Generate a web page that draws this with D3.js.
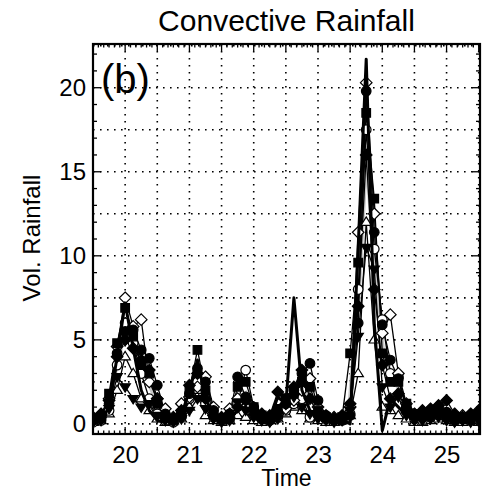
<!DOCTYPE html>
<html>
<head>
  <meta charset="utf-8">
  <title>Convective Rainfall</title>
  <script src="https://d3js.org/d3.v7.min.js"></script>
  <style>
    body { margin: 0; background: #fff; }
    text { font-family: "Liberation Sans", Arial, sans-serif; fill: #000; }
  </style>
</head>
<body>
<svg></svg>
<script>

// 3-hourly times (days)
var times = [19.5, 19.625, 19.75, 19.875, 20.0, 20.125, 20.25, 20.375, 20.5, 20.625, 20.75, 20.875,
  21.0, 21.125, 21.25, 21.375, 21.5, 21.625, 21.75, 21.875, 22.0, 22.125, 22.25, 22.375,
  22.5, 22.625, 22.75, 22.875, 23.0, 23.125, 23.25, 23.375, 23.5, 23.625, 23.75, 23.875,
  24.0, 24.125, 24.25, 24.375, 24.5, 24.625, 24.75, 24.875, 25.0, 25.125, 25.25, 25.375, 25.5]

var xTicks = [20, 21, 22, 23, 24, 25]
var yTicks = [0, 5, 10, 15, 20]

var obs = [0.3, 0.2, 1.0, 4.0, 7.2, 4.5, 2.0, 0.8, 0.2, 0.1, 0.3, 0.5,
  2.0, 3.8, 1.5, 0.5, 0.2, 0.3, 0.8, 1.0, 0.6, 0.2, 0.3, 1.6,
  1.2, 7.5, 2.0, 0.8, 0.4, 0.3, 0.2, 0.3, 0.0, 10.5, 21.7, 6.0,
  -0.4, 1.5, 1.0, 0.5, 0.3, 0.5, 0.8, 1.0, 0.6, 0.3, 0.2, 0.4, 0.6]

var ensMean = [0.2, 0.3, 1.2, 3.8, 5.5, 4.7, 3.6, 2.5, 1.2, 0.4, 0.2, 0.5,
  1.6, 3.0, 1.8, 0.6, 0.2, 0.4, 1.5, 1.8, 0.8, 0.3, 0.3, 0.6,
  1.0, 1.6, 2.0, 1.8, 0.7, 0.3, 0.2, 0.3, 1.2, 7.5, 16.5, 10.0,
  4.5, 3.0, 2.2, 0.9, 0.4, 0.3, 0.5, 0.7, 0.6, 0.3, 0.3, 0.3, 0.3]

var circleFilled = [0.2, 0.3, 1.2, 4.2, 5.5, 5.6, 4.4, 3.9, 2.3, 0.6, 0.3, 0.5,
  1.8, 3.3, 2.5, 0.8, 0.3, 0.6, 2.8, 1.6, 0.9, 0.4, 0.3, 0.7,
  1.2, 2.0, 3.0, 3.6, 1.4, 0.5, 0.3, 0.2, 0.5, 6.0, 19.8, 11.4,
  5.9, 3.8, 2.7, 1.0, 0.5, 0.4, 0.8, 1.0, 0.7, 0.4, 0.3, 0.5, 0.4]

var circleOpen = [0.1, 0.2, 0.8, 3.5, 6.0, 4.8, 3.0, 1.5, 0.6, 0.2, 0.1, 0.4,
  1.5, 2.5, 1.2, 0.4, 0.2, 0.3, 1.2, 3.2, 1.0, 0.3, 0.2, 0.4,
  0.8, 1.2, 1.5, 0.4, 0.6, 0.3, 0.2, 0.3, 0.6, 8.0, 17.5, 10.4,
  6.2, 3.0, 2.8, 0.8, 0.3, 0.2, 0.4, 0.6, 0.4, 0.2, 0.3, 0.2, 0.3]

var squareFilled = [0.3, 0.4, 1.8, 4.8, 6.9, 5.2, 3.5, 3.0, 1.2, 0.4, 0.2, 0.6,
  2.0, 4.4, 2.0, 0.6, 0.3, 0.4, 2.2, 2.5, 1.0, 0.5, 0.4, 0.9,
  1.5, 1.8, 2.5, 2.2, 0.8, 0.4, 0.3, 0.4, 4.2, 9.6, 18.5, 13.4,
  4.2, 2.5, 2.5, 1.2, 0.6, 0.5, 0.6, 0.8, 0.5, 0.3, 0.4, 0.3, 0.5]

var diamondOpen = [0.2, 0.5, 1.5, 4.6, 7.5, 5.8, 6.2, 2.5, 1.5, 0.9, 0.3, 1.2,
  1.6, 2.2, 2.8, 1.0, 0.3, 0.9, 1.5, 1.0, 0.5, 0.3, 0.2, 0.6,
  0.9, 1.4, 2.0, 2.7, 1.0, 0.4, 0.2, 0.3, 1.0, 11.4, 20.3, 12.5,
  5.4, 6.5, 3.0, 1.2, 0.5, 0.3, 0.4, 0.5, 0.3, 0.2, 0.5, 0.3, 0.2]

var triDown = [0.1, 0.2, 0.9, 2.8, 2.2, 1.5, 1.0, 1.2, 0.5, 0.2, 0.1, 0.3,
  0.8, 1.5, 0.9, 0.3, 0.1, 0.2, 1.3, 0.8, 0.4, 0.2, 0.1, 0.3,
  1.6, 1.6, 1.0, 0.6, 0.3, 0.2, 0.1, 0.2, 0.8, 5.2, 10.5, 9.2,
  2.2, 1.0, 1.6, 0.5, 0.2, 0.2, 0.3, 0.4, 0.2, 0.1, 0.2, 0.1, 0.2]

var diamondFilled = [0.4, 0.6, 1.4, 4.0, 5.0, 4.5, 3.8, 3.2, 1.5, 0.5, 0.4, 0.8,
  2.3, 3.0, 1.5, 0.5, 0.4, 0.6, 1.0, 1.4, 0.8, 0.6, 0.5, 1.9,
  1.2, 2.2, 3.2, 1.5, 0.6, 0.5, 0.4, 0.5, 1.2, 7.0, 16.0, 8.0,
  3.5, 1.5, 1.8, 0.9, 0.6, 0.8, 0.9, 1.1, 1.4, 0.6, 0.4, 0.6, 0.8]

var triUpOpen = [0.1, 0.2, 0.6, 2.0, 4.0, 3.0, 1.5, 0.8, 0.3, 0.1, 0.2, 0.3,
  1.0, 2.0, 0.5, 0.2, 0.1, 0.2, 0.5, 0.4, 0.2, 0.1, 0.2, 0.3,
  0.6, 1.0, 0.8, 0.3, 0.2, 0.1, 0.1, 0.2, 0.5, 3.0, 12.0, 5.0,
  1.0, 0.8, 0.5, 0.3, 0.1, 0.1, 0.2, 0.3, 0.2, 0.1, 0.1, 0.2, 0.1]

var series = [
  {name: 'triUpOpen', values: triUpOpen, shape: 'triUp', fill: '#fff'},
  {name: 'circleOpen', values: circleOpen, shape: 'circle', fill: '#fff'},
  {name: 'diamondOpen', values: diamondOpen, shape: 'diamond', fill: '#fff'},
  {name: 'triDown', values: triDown, shape: 'triDown', fill: '#000'},
  {name: 'diamondFilled', values: diamondFilled, shape: 'diamond', fill: '#000'},
  {name: 'circleFilled', values: circleFilled, shape: 'circle', fill: '#000'},
  {name: 'squareFilled', values: squareFilled, shape: 'square', fill: '#000'}
]

var W = 487, H = 492
var margin = {left: 93, right: 7, top: 44, bottom: 58}

var svg = d3.select('svg')
  .attr('width', W)
  .attr('height', H)

var x = d3.scaleLinear().domain([19.5, 25.52]).range([margin.left, W - margin.right])
var y = d3.scaleLinear().domain([-0.6, 22.6]).range([H - margin.bottom, margin.top])

var x0 = x.range()[0], x1 = x.range()[1]
var y0 = y.range()[0], y1 = y.range()[1]

svg.append('clipPath').attr('id', 'clip')
  .append('rect')
  .attr('x', x0).attr('y', y1)
  .attr('width', x1 - x0).attr('height', y0 - y1)

// dotted grid
var grid = svg.append('g')
d3.range(19.5, 25.51, 0.5).filter((v) => v > 19.6).forEach((v) => {
  grid.append('line')
    .attr('x1', x(v)).attr('x2', x(v))
    .attr('y1', y1).attr('y2', y0)
    .attr('stroke', '#000').attr('stroke-width', 1.6)
    .attr('stroke-dasharray', '1.6,5.4')
})
d3.range(0, 22.6, 2.5).forEach((v) => {
  grid.append('line')
    .attr('x1', x0).attr('x2', x1)
    .attr('y1', y(v)).attr('y2', y(v))
    .attr('stroke', '#000').attr('stroke-width', 1.6)
    .attr('stroke-dasharray', '1.6,5.4')
})

var plot = svg.append('g').attr('clip-path', 'url(#clip)')

var line = d3.line()
  .x((d, i) => x(times[i]))
  .y((d) => y(d))

plot.append('path')
  .datum(ensMean)
  .attr('d', line)
  .attr('fill', 'none')
  .attr('stroke', '#c8c8c8')
  .attr('stroke-width', 5)

series.forEach((s) => {
  plot.append('path')
    .datum(s.values)
    .attr('d', line)
    .attr('fill', 'none')
    .attr('stroke', '#000')
    .attr('stroke-width', 1.3)
})

function shapePath(shape, cx, cy) {
  var r
  if (shape === 'circle') {
    r = 4.8
    return 'M' + (cx - r) + ',' + cy + 'a' + r + ',' + r + ' 0 1,0 ' + (2 * r) + ',0' +
      'a' + r + ',' + r + ' 0 1,0 ' + (-2 * r) + ',0Z'
  }
  if (shape === 'square') {
    r = 4.3
    return 'M' + (cx - r) + ',' + (cy - r) + 'h' + (2 * r) + 'v' + (2 * r) + 'h' + (-2 * r) + 'Z'
  }
  if (shape === 'diamond') {
    r = 5.8
    return 'M' + cx + ',' + (cy - r) + 'L' + (cx + r) + ',' + cy + 'L' + cx + ',' + (cy + r) +
      'L' + (cx - r) + ',' + cy + 'Z'
  }
  if (shape === 'triDown') {
    r = 5.2
    return 'M' + (cx - r) + ',' + (cy - r * 0.6) + 'L' + (cx + r) + ',' + (cy - r * 0.6) +
      'L' + cx + ',' + (cy + r) + 'Z'
  }
  r = 5.2
  return 'M' + (cx - r) + ',' + (cy + r * 0.6) + 'L' + (cx + r) + ',' + (cy + r * 0.6) +
    'L' + cx + ',' + (cy - r) + 'Z'
}

series.forEach((s) => {
  plot.append('g').selectAll('path')
    .data(s.values)
    .enter()
    .append('path')
    .attr('d', (d, i) => shapePath(s.shape, x(times[i]), y(d)))
    .attr('fill', s.fill)
    .attr('stroke', '#000')
    .attr('stroke-width', 1.2)
})

// observed
plot.append('path')
  .datum(obs)
  .attr('d', line)
  .attr('fill', 'none')
  .attr('stroke', '#000')
  .attr('stroke-width', 3)
  .attr('stroke-linejoin', 'round')

// frame + ticks (inward, all four sides)
var axes = svg.append('g')
axes.append('rect')
  .attr('x', x0).attr('y', y1)
  .attr('width', x1 - x0).attr('height', y0 - y1)
  .attr('fill', 'none')
  .attr('stroke', '#000')
  .attr('stroke-width', 2.2)

var xMinor = d3.range(19.5, 25.52, 1 / 12)
xMinor.forEach((v, i) => {
  var len = (i % 6 === 0) ? 7 : 3.5
  axes.append('line').attr('x1', x(v)).attr('x2', x(v))
    .attr('y1', y0).attr('y2', y0 - len).attr('stroke', '#000').attr('stroke-width', 1.3)
  axes.append('line').attr('x1', x(v)).attr('x2', x(v))
    .attr('y1', y1).attr('y2', y1 + len).attr('stroke', '#000').attr('stroke-width', 1.3)
})
d3.range(0, 22.6, 1).forEach((v) => {
  var len = (v % 5 === 0) ? 8 : 4
  axes.append('line').attr('x1', x0).attr('x2', x0 + len)
    .attr('y1', y(v)).attr('y2', y(v)).attr('stroke', '#000').attr('stroke-width', 1.3)
  axes.append('line').attr('x1', x1).attr('x2', x1 - len)
    .attr('y1', y(v)).attr('y2', y(v)).attr('stroke', '#000').attr('stroke-width', 1.3)
})

// tick labels via axis generators
var xAxis = d3.axisBottom(x).tickValues(xTicks).tickSize(0).tickPadding(12).tickFormat(d3.format('d'))
var gx = svg.append('g').attr('transform', 'translate(0,' + y0 + ')').call(xAxis)
gx.select('.domain').remove()
gx.selectAll('text').style('font-size', '24px').attr('font-family', null)

var yAxis = d3.axisLeft(y).tickValues(yTicks).tickSize(0).tickPadding(7).tickFormat(d3.format('d'))
var gy = svg.append('g').attr('transform', 'translate(' + x0 + ',0)').call(yAxis)
gy.select('.domain').remove()
gy.selectAll('text').style('font-size', '24px').attr('font-family', null)

svg.append('text')
  .attr('x', (x0 + x1) / 2)
  .attr('y', 31)
  .attr('text-anchor', 'middle')
  .style('font-size', '30px')
  .text('Convective Rainfall')

svg.append('text')
  .attr('x', (x0 + x1) / 2)
  .attr('y', 486)
  .attr('text-anchor', 'middle')
  .style('font-size', '23px')
  .text('Time')

svg.append('text')
  .attr('transform', 'translate(40,238) rotate(-90)')
  .attr('text-anchor', 'middle')
  .style('font-size', '24px')
  .text('Vol. Rainfall')

svg.append('text')
  .attr('x', 101)
  .attr('y', 93)
  .style('font-size', '40px')
  .text('(b)')

</script>
</body>
</html>
